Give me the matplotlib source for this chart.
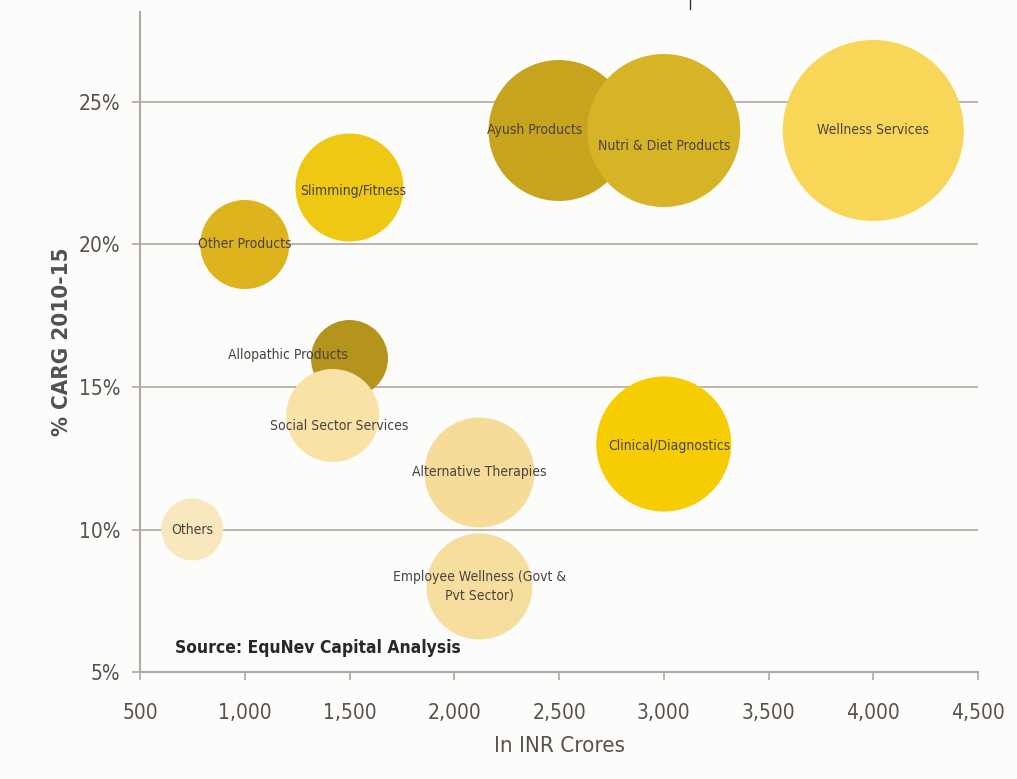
import matplotlib
matplotlib.use("Agg")
from matplotlib import pyplot as plt
from matplotlib.lines import Line2D
from matplotlib.ticker import FuncFormatter, MultipleLocator

# 数据
segments = ['Ayush Products', 'Nutri & Diet Products', 'Wellness Services',
            'Slimming/Fitness', 'Other Products', 'Allopathic Products',
            'Social Sector Services', 'Clinical/Diagnostics',
            'Alternative Therapies', 'Others',
            'Employee Wellness (Govt &\nPvt Sector)']
market_size = [2500, 3000, 4000, 1500, 1000, 1500, 1420, 3000, 2120, 750, 2120]
cagr = [24, 24, 24, 22, 20, 16, 14, 13, 12, 10, 8]
bubble_diam = [141, 153, 181, 108, 89, 77, 93, 135, 110, 62, 106]  # px

colors = ['#C8A41E', '#D6B425', '#F8D758', '#EFC814', '#DDB41E', '#B4941C',
          '#F8E2A6', '#F6CD02', '#F6DC98', '#F9E8BE', '#F6DE9E']

# 标签偏移 (px, 向右/向下)
label_offset = {
    'Ayush Products': (-24, 0),
    'Nutri & Diet Products': (0, 16),
    'Slimming/Fitness': (4, 4),
    'Allopathic Products': (-62, -3),
    'Social Sector Services': (6, 11),
    'Clinical/Diagnostics': (6, 2),
}

fam = 'DejaVu Sans'
cond = 'condensed'
grid_c = '#B3A7A7'
text_c = '#5A5050'

fig = plt.figure(figsize=(10.17, 7.79), dpi=100, facecolor='#FCFCFA')
ax = fig.add_axes([140 / 1017, 1 - 672 / 779, 838 / 1017, 660 / 779])
ax.set_facecolor('#FCFCFA')

ax.set_xlim(500, 4500)
ax.set_ylim(5, 5 + 660 / 28.5)

for y in [10, 15, 20, 25]:
    ax.axhline(y, color=grid_c, lw=1.2, zorder=1)

sizes = [(d * 0.72) ** 2 for d in bubble_diam]
for x, y, s, c in zip(market_size, cagr, sizes, colors):
    ax.scatter(x, y, s=s, color=c, edgecolors='none', zorder=2)

for x, y, name in zip(market_size, cagr, segments):
    dx, dy = label_offset.get(name, (0, 0))
    ax.annotate(name, (x, y), xytext=(dx * 0.72, -dy * 0.72),
                textcoords='offset points', ha='center', va='center',
                fontsize=10, color='#4A4242', family=fam, fontstretch=cond,
                linespacing=1.4, zorder=5)

ax.xaxis.set_major_locator(MultipleLocator(500))
ax.yaxis.set_major_locator(MultipleLocator(5))
ax.xaxis.set_major_formatter(FuncFormatter(lambda v, p: f"{int(v):,}"))
ax.yaxis.set_major_formatter(FuncFormatter(lambda v, p: f"{int(v)}%"))

for side in ['top', 'right']:
    ax.spines[side].set_visible(False)
for side in ['left', 'bottom']:
    ax.spines[side].set_color(grid_c)
    ax.spines[side].set_linewidth(1.5)

ax.tick_params(axis='both', colors=grid_c, length=6, width=1.2,
               labelcolor=text_c, labelsize=15)
ax.tick_params(axis='x', pad=16)
ax.tick_params(axis='y', pad=8)
for lab in ax.get_xticklabels() + ax.get_yticklabels():
    lab.set_family(fam)
    lab.set_fontstretch(cond)

ax.set_xlabel('In INR Crores', fontsize=16, color=text_c, family=fam,
              fontstretch=cond, labelpad=10)
ax.set_ylabel('% CARG 2010-15', fontsize=16, color='#555050',
              fontweight='bold', family=fam, fontstretch=cond, labelpad=5)

ax.text(667, 5.84, 'Source: EquNev Capital Analysis', fontsize=12.5,
        fontweight='bold', color='#2A2626', family=fam, fontstretch=cond,
        ha='left', va='center', zorder=6)

fig.add_artist(Line2D([690 / 1017, 690 / 1017], [1, 1 - 9 / 779],
                      color='#333333', lw=1))

plt.savefig('out.png', dpi=100, facecolor=fig.get_facecolor())
